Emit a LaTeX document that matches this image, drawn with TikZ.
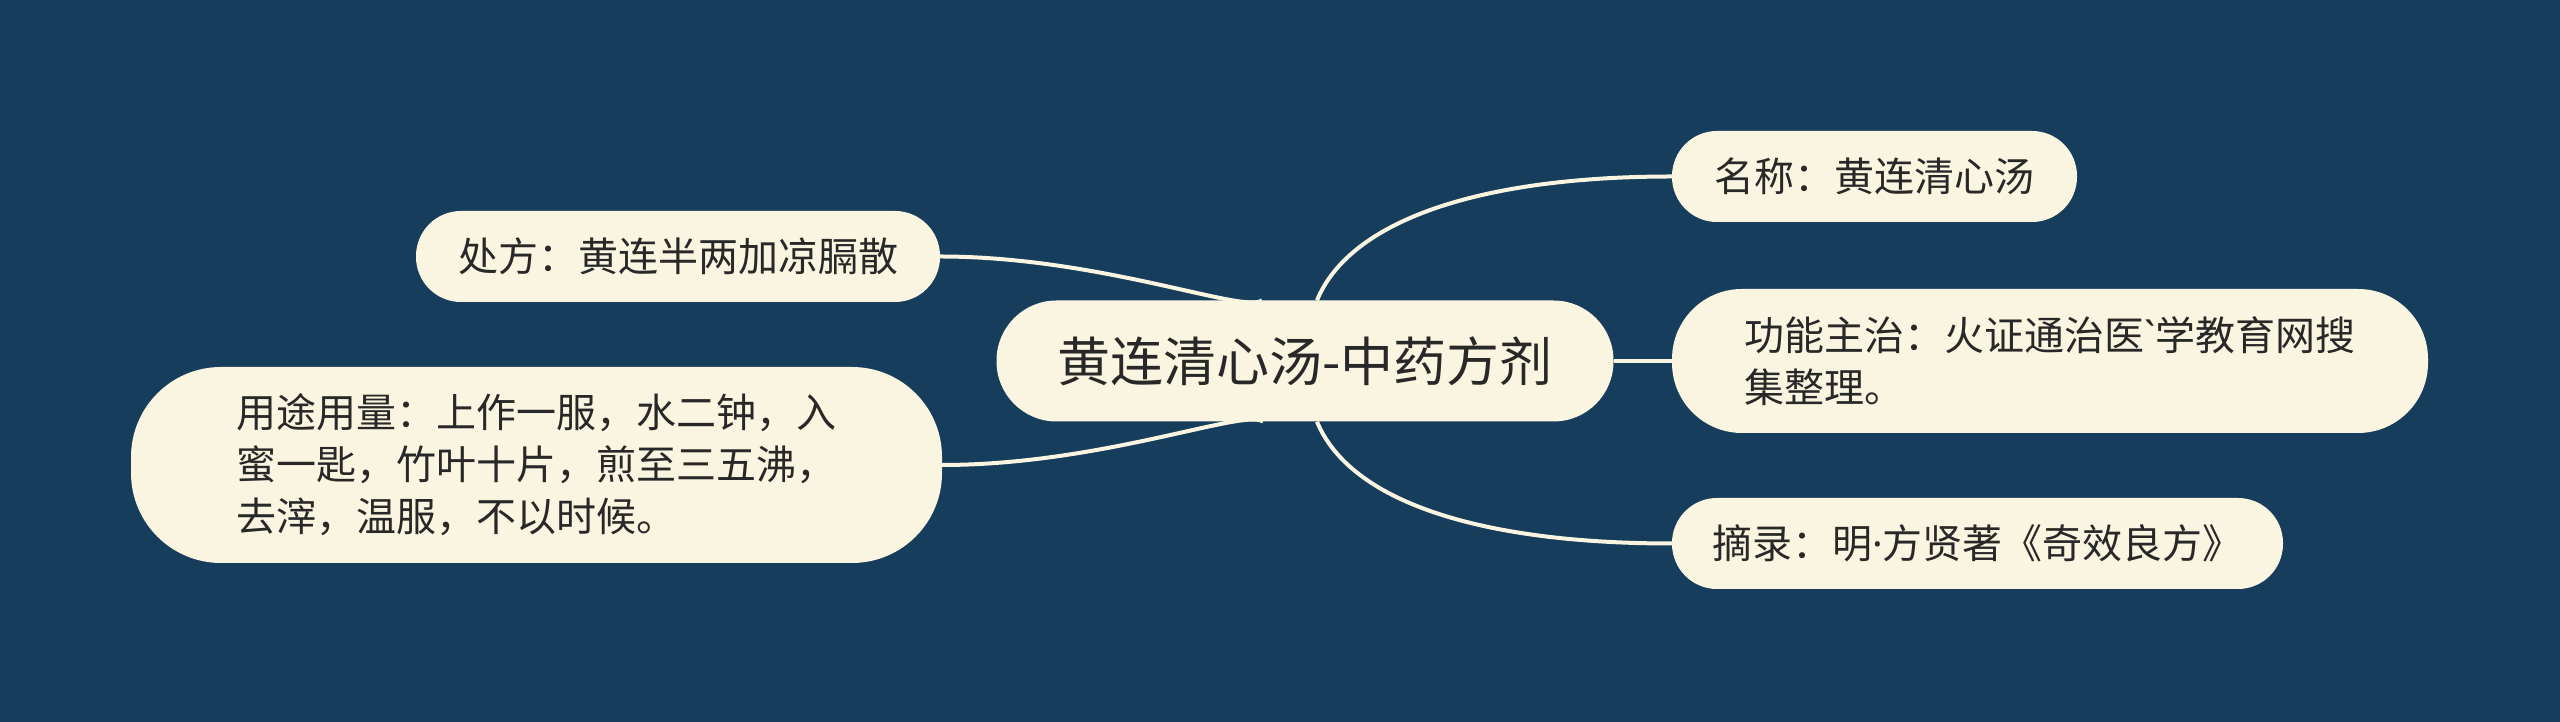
\documentclass[tikz,border=0pt]{standalone}
\usepackage{fontspec}
\setmainfont{Noto Sans CJK SC}
\newfontfamily\latinfont{Noto Sans}
\usetikzlibrary{calc}
\definecolor{bgc}{RGB}{23,61,92}
\definecolor{nodefill}{RGB}{250,245,225}
\definecolor{txt}{RGB}{40,40,40}
\begin{document}
\begin{tikzpicture}[x=1pt,y=1pt,
  box/.style={fill=nodefill,text=txt,inner sep=0pt,align=left,
    font=\fontsize{40}{52}\selectfont},
  link/.style={draw=nodefill,line width=4pt}]
\fill[bgc] (0,0) rectangle (2560,722);
\useasboundingbox (0,0) rectangle (2560,722);
\node[box,minimum width=617,minimum height=121,rounded corners=60,
  font=\fontsize{53}{60}\selectfont] (root) at (1305,361) {黄连清心汤-中药方剂};
\node[box,minimum width=405,minimum height=91,rounded corners=45] (n1) at (1874.5,545.5) {名称：黄连清心汤};
\node[box,minimum width=756,minimum height=144,rounded corners=70] (n2) at (2050,361) {功能主治：火证通治医{\latinfont\symbol{96}}学教育网搜\\集整理。};
\node[box,minimum width=611,minimum height=91,rounded corners=45] (n3) at (1977.5,178.5) {摘录：明{\latinfont ·}方贤著《奇效良方》};
\node[box,minimum width=524,minimum height=91,rounded corners=45] (l1) at (678,465.5) {处方：黄连半两加凉膈散};
\node[box,minimum width=811,minimum height=196,rounded corners=90] (l2) at (536.5,257) {用途用量：上作一服，水二钟，入\\蜜一匙，竹叶十片，煎至三五沸，\\去滓，温服，不以时候。};
\draw[link] ($(root.north)+(12,0)$) .. controls +(33,80) and +(-192,0) .. (n1.west);
\draw[link] (root.east) -- (n2.west);
\draw[link] ($(root.south)+(12,0)$) .. controls +(33,-80) and +(-192,0) .. (n3.west);
\draw[link] ($(root.north)+(-43,0)$) .. controls +(-17,-14) and +(160,0) .. (l1.east);
\draw[link] ($(root.south)+(-42,0)$) .. controls +(-17,14) and +(160,0) .. (l2.east);
\end{tikzpicture}
\end{document}
